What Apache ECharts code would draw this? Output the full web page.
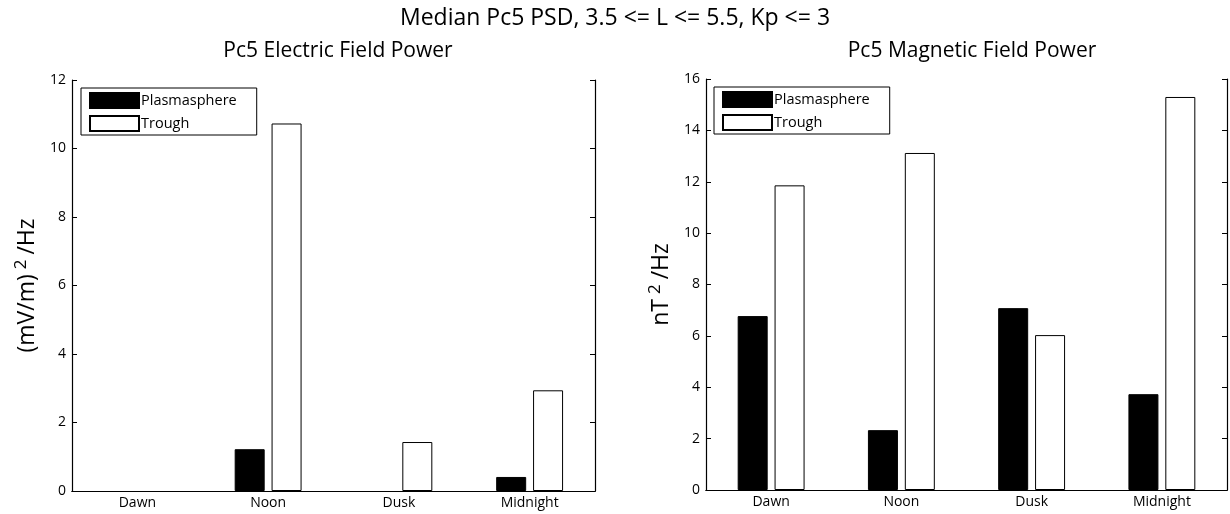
<!DOCTYPE html>
<html>
<head>
<meta charset="utf-8">
<script src="https://cdn.jsdelivr.net/npm/echarts@6/dist/echarts.min.js"></script>
<style>
  html, body { margin: 0; padding: 0; background: #fff; }
  #chart { width: 1230px; height: 514px; }
</style>
</head>
<body>
<div id="chart"></div>
<script>
// data
var categories = ['Dawn', 'Noon', 'Dusk', 'Midnight'];
var electricPlasmasphere = [0, 1.22, 0, 0.41];
var electricTrough = [0, 10.73, 1.43, 2.94];
var magneticPlasmasphere = [6.77, 2.33, 7.08, 3.73];
var magneticTrough = [11.86, 13.12, 6.03, 15.30];
var electricTicks = { min: 0, max: 12, interval: 2 };
var magneticTicks = { min: 0, max: 16, interval: 2 };

var FONT = 'Open Sans';
var chart = echarts.init(document.getElementById('chart'));

function xAxes(gridIndex) {
  return [
    {
      type: 'category', gridIndex: gridIndex, data: categories, position: 'bottom',
      axisLine: { lineStyle: { color: '#000', width: 1.2 } },
      axisTick: { inside: true, alignWithLabel: true, length: 5, lineStyle: { color: '#000' } },
      axisLabel: { color: '#000', fontFamily: FONT, fontSize: 14, margin: 5 }
    },
    {
      type: 'category', gridIndex: gridIndex, data: categories, position: 'top',
      axisLine: { lineStyle: { color: '#000', width: 1.2 } },
      axisTick: { inside: true, alignWithLabel: true, length: 5, lineStyle: { color: '#000' } },
      axisLabel: { show: false }
    }
  ];
}

function yAxes(gridIndex, ticks, nameText) {
  return [
    {
      type: 'value', gridIndex: gridIndex, position: 'left',
      min: ticks.min, max: ticks.max, interval: ticks.interval,
      name: nameText, nameLocation: 'middle', nameRotate: 90, nameGap: 30,
      nameTextStyle: {
        color: '#000', fontFamily: FONT, fontSize: 23,
        rich: {
          sup: { fontFamily: FONT, fontSize: 17, color: '#000', verticalAlign: 'top', padding: [0, 5, 12, 5] }
        }
      },
      axisLine: { show: true, lineStyle: { color: '#000', width: 1.2 } },
      axisTick: { show: true, inside: true, length: 5, lineStyle: { color: '#000' } },
      axisLabel: { color: '#000', fontFamily: FONT, fontSize: 14, margin: 6 },
      splitLine: { show: false }
    },
    {
      type: 'value', gridIndex: gridIndex, position: 'right',
      min: ticks.min, max: ticks.max, interval: ticks.interval,
      axisLine: { show: true, lineStyle: { color: '#000', width: 1.2 } },
      axisTick: { show: true, inside: true, length: 5, lineStyle: { color: '#000' } },
      axisLabel: { show: false },
      splitLine: { show: false }
    }
  ];
}

function barSeries(name, values, axisIdx, filled) {
  // a zero-height bar draws nothing in the original, so drop its outline
  var data = values.map(function (v) {
    return v === 0 ? { value: v, itemStyle: { borderWidth: 0, opacity: 0 } } : v;
  });
  return {
    name: name, type: 'bar', data: data,
    xAxisIndex: axisIdx * 2, yAxisIndex: axisIdx * 2,
    barWidth: 30, barGap: '23%',
    itemStyle: filled
      ? { color: '#000', borderColor: '#000', borderWidth: 1 }
      : { color: '#fff', borderColor: '#000', borderWidth: 1 },
    emphasis: { disabled: true }
  };
}

function legendAt(left, top) {
  return {
    left: left, top: top, orient: 'vertical',
    width: 169, height: 45,
    data: ['Plasmasphere', 'Trough'],
    itemWidth: 49, itemHeight: 15, itemGap: 6,
    padding: [4, 20, 3, 8],
    borderColor: '#000', borderWidth: 1, backgroundColor: '#fff',
    icon: 'rect',
    textStyle: { color: '#000', fontFamily: FONT, fontSize: 14.5, padding: [0, 0, 0, -3] },
    selectedMode: false
  };
}

chart.setOption({
  animation: false,
  backgroundColor: '#fff',
  title: [
    { text: 'Median Pc5 PSD, 3.5 <= L <= 5.5, Kp <= 3', left: 'center', top: 2,
      textStyle: { color: '#000', fontFamily: FONT, fontWeight: 'normal', fontSize: 23 } },
    { text: 'Pc5 Electric Field Power', left: 333, top: 36, textAlign: 'center',
      textStyle: { color: '#000', fontFamily: FONT, fontWeight: 'normal', fontSize: 21 } },
    { text: 'Pc5 Magnetic Field Power', left: 967, top: 36, textAlign: 'center',
      textStyle: { color: '#000', fontFamily: FONT, fontWeight: 'normal', fontSize: 21 } }
  ],
  legend: [legendAt(81, 88), legendAt(714, 87)],
  grid: [
    { left: 72, top: 80, width: 523, height: 411 },
    { left: 706, top: 79, width: 521, height: 411 }
  ],
  xAxis: xAxes(0).concat(xAxes(1)),
  yAxis: yAxes(0, electricTicks, '(mV/m){sup|2}/Hz')
    .concat(yAxes(1, magneticTicks, 'nT{sup|2}/Hz')),
  series: [
    barSeries('Plasmasphere', electricPlasmasphere, 0, true),
    barSeries('Trough', electricTrough, 0, false),
    barSeries('Plasmasphere', magneticPlasmasphere, 1, true),
    barSeries('Trough', magneticTrough, 1, false)
  ]
});
</script>
</body>
</html>
